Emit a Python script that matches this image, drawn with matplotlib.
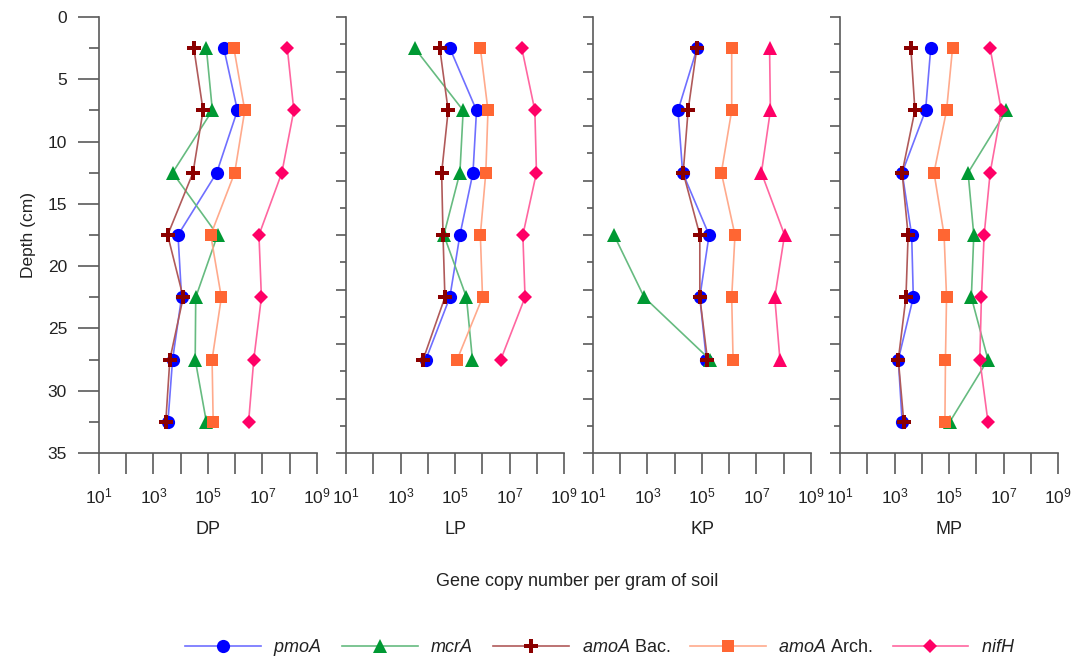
import numpy as np
import matplotlib
matplotlib.use("Agg")
import matplotlib.pyplot as plt
from matplotlib.ticker import FixedLocator, NullFormatter

plt.rcParams["font.family"] = ["Liberation Sans", "DejaVu Sans"]
plt.rcParams["mathtext.fontset"] = "custom"
plt.rcParams["mathtext.rm"] = "Liberation Sans"
plt.rcParams["mathtext.it"] = "Liberation Sans:italic"

# ---- data: log10 gene copies per gram of soil, by sampling depth ----
depths = [2.5, 7.5, 12.5, 17.5, 22.5, 27.5, 32.5]
sites = ["DP", "LP", "KP", "MP"]
genes = ["pmoA", "mcrA", "amoA Bac.", "amoA Arch.", "nifH"]
nan = np.nan

dp_pmoA = [5.58, 6.08, 5.32, 3.90, 4.03, 3.70, 3.53]
dp_mcrA = [4.94, 5.16, 3.70, 5.35, 4.55, 4.53, 4.94]
dp_amoA_bac = [4.48, 4.82, 4.45, 3.52, 4.09, 3.60, 3.45]
dp_amoA_arch = [5.95, 6.35, 5.98, 5.10, 5.49, 5.15, 5.19]
dp_nifH = [7.91, 8.15, 7.71, 6.87, 6.96, 6.68, 6.49]

lp_pmoA = [4.81, 5.79, 5.66, 5.18, 4.81, 3.93, nan]
lp_mcrA = [3.52, 5.30, 5.18, 4.59, 5.42, 5.64, nan]
lp_amoA_bac = [4.44, 4.75, 4.51, 4.56, 4.63, 3.83, nan]
lp_amoA_arch = [5.93, 6.21, 6.13, 5.93, 6.01, 5.08, nan]
lp_nifH = [7.45, 7.93, 7.99, 7.49, 7.57, 6.68, nan]

kp_pmoA = [4.82, 4.12, 4.29, 5.26, 4.92, 5.16, nan]
kp_mcrA = [nan, nan, nan, 1.77, 2.88, 5.29, nan]
kp_amoA_bac = [4.81, 4.49, 4.31, 4.92, 4.92, 5.20, nan]
kp_amoA_arch = [6.09, 6.09, 5.71, 6.21, 6.09, 6.14, nan]
kp_nifH = [7.48, 7.51, 7.18, 8.03, 7.67, 7.86, nan]

mp_pmoA = [4.33, 4.14, 3.28, 3.63, 3.69, 3.14, 3.28]
mp_mcrA = [nan, 7.11, 5.70, 5.91, 5.82, 6.43, 5.03]
mp_amoA_bac = [3.60, 3.75, 3.28, 3.50, 3.42, 3.14, 3.34]
mp_amoA_arch = [5.13, 4.91, 4.45, 4.82, 4.91, 4.87, 4.85]
mp_nifH = [6.51, 6.92, 6.51, 6.29, 6.19, 6.13, 6.43]

site_data = {
    "DP": [dp_pmoA, dp_mcrA, dp_amoA_bac, dp_amoA_arch, dp_nifH],
    "LP": [lp_pmoA, lp_mcrA, lp_amoA_bac, lp_amoA_arch, lp_nifH],
    "KP": [kp_pmoA, kp_mcrA, kp_amoA_bac, kp_amoA_arch, kp_nifH],
    "MP": [mp_pmoA, mp_mcrA, mp_amoA_bac, mp_amoA_arch, mp_nifH],
}

# ---- styling ----
legend_labels = [r"$\it{pmoA}$", r"$\it{mcrA}$", r"$\it{amoA}$ Bac.",
                 r"$\it{amoA}$ Arch.", r"$\it{nifH}$"]
marker_colors = ["#0000FF", "#009933", "#8B0000", "#FF6633", "#FF0066"]
line_colors = ["#6F6FFF", "#66BB80", "#B05A5A", "#FFAA8C", "#FF66A0"]
markers = ["o", "^", "P", "s", "D"]
marker_sizes = [9.5, 9.5, 9.5, 9, 7]
axis_color = "#5A5A5A"
text_color = "#222222"

fig = plt.figure(figsize=(10.75, 6.62), dpi=100)
W, H = 1075, 662
panel_left = [99, 346, 593, 840]
panel_w = 218
top_px, bot_px = 17, 453

handles = []
for i, site in enumerate(sites):
    ax = fig.add_axes([panel_left[i] / W, 1 - bot_px / H,
                       panel_w / W, (bot_px - top_px) / H])
    for g, values in enumerate(site_data[site]):
        mk = markers[g]
        if site == "KP" and genes[g] == "nifH":
            mk = "^"
        ms = marker_sizes[g] if mk != "^" else 9.5
        copies = 10.0 ** np.asarray(values, dtype=float)
        h, = ax.plot(copies, depths, color=line_colors[g], lw=1.2,
                     marker=mk, ms=ms, mfc=marker_colors[g],
                     mec=marker_colors[g], mew=0, zorder=3 + g,
                     label=legend_labels[g], clip_on=False)
        if i == 0:
            handles.append(h)

    ax.set_xscale("log")
    ax.set_xlim(1e1, 1e9)
    ax.set_ylim(35, 0)

    for s in ("top", "right"):
        ax.spines[s].set_visible(False)
    for s in ("left", "bottom"):
        ax.spines[s].set_color(axis_color)
        ax.spines[s].set_linewidth(1.2)

    decades = [10.0 ** k for k in range(1, 10)]
    ax.xaxis.set_major_locator(FixedLocator(decades))
    ax.xaxis.set_minor_locator(FixedLocator([]))
    ax.set_xticklabels([r"$\mathregular{10^{%d}}$" % k if k % 2 == 1 else ""
                        for k in range(1, 10)])
    ax.tick_params(axis="x", which="major", direction="out", length=15,
                   width=1.2, color=axis_color, pad=9, labelsize=12.5,
                   labelcolor=text_color)

    if i == 0:
        ax.yaxis.set_major_locator(FixedLocator(np.arange(0, 36, 5)))
        ax.yaxis.set_minor_locator(FixedLocator(np.arange(2.5, 35, 5)))
        ax.tick_params(axis="y", which="major", direction="out", length=15,
                       width=1.2, color=axis_color, pad=8, labelsize=12.5,
                       labelcolor=text_color)
        ax.tick_params(axis="y", which="minor", direction="out", length=7,
                       width=1.2, color=axis_color)
        ax.set_ylabel("Depth (cm)", fontsize=12.5, color=text_color,
                      labelpad=8)
    else:
        ticks = np.arange(17) * 35 / 16
        ax.yaxis.set_major_locator(FixedLocator(ticks[::2]))
        ax.yaxis.set_minor_locator(FixedLocator(ticks[1::2]))
        ax.yaxis.set_major_formatter(NullFormatter())
        ax.tick_params(axis="y", which="major", direction="out", length=7.5,
                       width=1.2, color=axis_color)
        ax.tick_params(axis="y", which="minor", direction="out", length=4,
                       width=1.2, color=axis_color)

    fig.text((panel_left[i] + panel_w / 2) / W, 1 - 530 / H, site,
             ha="center", va="center", fontsize=13, color=text_color)

fig.text(577 / W, 1 - 581 / H, "Gene copy number per gram of soil",
         ha="center", va="center", fontsize=13, color=text_color)

leg = fig.legend(handles=handles, loc="center", ncol=5,
                 bbox_to_anchor=(600 / W, 1 - 648 / H), frameon=False,
                 fontsize=13, handlelength=4.2, handletextpad=0.7,
                 columnspacing=1.1, borderaxespad=0)
for t in leg.get_texts():
    t.set_color(text_color)

fig.savefig("out.png", dpi=100)
